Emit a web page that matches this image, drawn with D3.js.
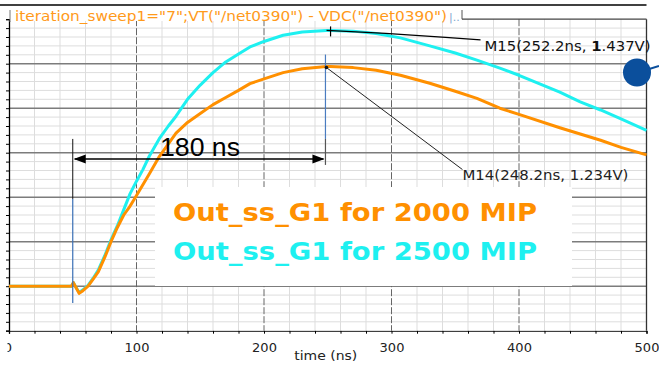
<!DOCTYPE html>
<html>
<head>
<meta charset="utf-8">
<script src="https://cdn.jsdelivr.net/npm/d3@7"></script>
<style>
  html, body { margin: 0; padding: 0; background: #fff; overflow: hidden; }
  svg { display: block; }
</style>
</head>
<body>
<svg id="chart" width="659" height="372"></svg>
<script>
// Transient response of Out_ss_G1 (VT - VDC of /net0390), two MIP settings
const timeNs = [0, 49, 50.5, 52, 55, 58, 62, 66, 70, 75, 80, 85, 90, 95, 100, 105, 110, 118, 125, 131,
  140, 150, 160, 170, 180, 189, 200, 215, 230, 249, 252, 270, 288, 307, 330, 350, 367, 385, 400,
  432, 448, 464, 480, 500];
const out2000MIP = [0, 0, 0.02, 0.0, -0.04, -0.025, 0.0, 0.04, 0.08, 0.16, 0.25, 0.33, 0.40, 0.45, 0.51,
  0.57, 0.63, 0.73, 0.80, 0.86, 0.92, 0.97, 1.02, 1.06, 1.10, 1.138, 1.165, 1.20, 1.222, 1.234, 1.234,
  1.228, 1.213, 1.185, 1.14, 1.095, 1.055, 1.00, 0.965, 0.89, 0.855, 0.82, 0.78, 0.738];
const out2500MIP = [0, 0, 0.02, 0.0, -0.035, -0.02, 0.005, 0.045, 0.09, 0.17, 0.26, 0.34, 0.43, 0.52, 0.59,
  0.655, 0.73, 0.83, 0.90, 0.955, 1.05, 1.13, 1.20, 1.26, 1.305, 1.344, 1.375, 1.41, 1.428, 1.437, 1.437,
  1.433, 1.42, 1.395, 1.35, 1.31, 1.27, 1.225, 1.185, 1.09, 1.035, 0.99, 0.94, 0.876];

const seriesNames = ["Out_ss_G1 for 2000 MIP", "Out_ss_G1 for 2500 MIP"];
const seriesColors = ["#ff9000", "#1ef0f0"];
const xTickLabels = [0, 100, 200, 300, 400, 500];
const titleText = 'iteration_sweep1="7";VT("/net0390") - VDC("/net0390")';

// markers placed on the peaks
const markerM14 = { name: "M14", t: 248.2, v: 1.234 };
const markerM15 = { name: "M15", t: 252.2, v: 1.437 };
// dimension arrow between the step edge and M14
const spanFrom = 50, spanTo = 248.2, spanLevel = 0.715, spanLabel = "180 ns";

const svg = d3.select("#chart");
const W = 659, H = 372;
const x = d3.scaleLinear().domain([0, 500]).range([9, 646.5]);
const y = d3.scaleLinear().domain([-0.25, 1.5]).range([330.7, 19.2]);
const [x0, x1] = x.range();
const [yB, yT] = y.range();

svg.append("rect").attr("width", W).attr("height", H).attr("fill", "#fff");

// ---- grid ----
const grid = svg.append("g");
const minorX = d3.range(20, 500, 20).filter(d => d % 100 !== 0);
const minorY = d3.range(-0.2, 1.5, 0.05).map(d => +d.toFixed(2)).filter(d => Math.abs(Math.round(d / 0.25) * 0.25 - d) > 1e-6);
grid.selectAll(".mx").data(minorX).join("line")
  .attr("x1", d => x(d)).attr("x2", d => x(d)).attr("y1", yT).attr("y2", yB)
  .attr("stroke", "#dddddd").attr("stroke-width", 1);
grid.selectAll(".my").data(minorY).join("line")
  .attr("x1", x0).attr("x2", x1).attr("y1", d => y(d)).attr("y2", d => y(d))
  .attr("stroke", "#dddddd").attr("stroke-width", 1);
const majorY = d3.range(0, 1.5, 0.25);
grid.selectAll(".My").data(majorY).join("line")
  .attr("x1", x0).attr("x2", x1).attr("y1", d => y(d)).attr("y2", d => y(d))
  .attr("stroke", "#7c7c7c").attr("stroke-width", 1.6);
grid.selectAll(".Mx").data([100, 200, 300, 400]).join("line")
  .attr("x1", d => x(d)).attr("x2", d => x(d)).attr("y1", yT).attr("y2", yB)
  .attr("stroke", "#666").attr("stroke-width", 1).attr("stroke-dasharray", "7,2");

// ---- legend panel ----
svg.append("rect").attr("x", 155).attr("y", 187).attr("width", 417).attr("height", 99).attr("fill", "#fff");
const legend = svg.append("g").attr("font-family", "DejaVu Sans, Verdana, sans-serif")
  .attr("font-weight", "bold").attr("font-size", 25);
legend.selectAll("text").data(seriesNames).join("text")
  .attr("x", 173).attr("y", (d, i) => 220.5 + i * 39.5)
  .attr("fill", (d, i) => seriesColors[i])
  .attr("textLength", 364).attr("lengthAdjust", "spacingAndGlyphs")
  .text(d => d);

// ---- axes ----
const xAxis = d3.axisBottom(x).tickValues(d3.range(0, 501, 20)).tickSize(3).tickPadding(9)
  .tickFormat(d => xTickLabels.includes(d) ? d : "");
svg.append("defs").append("clipPath").attr("id", "axclip")
  .append("rect").attr("x", 7.5).attr("y", 0).attr("width", W).attr("height", H);
const gx = svg.append("g").attr("transform", `translate(0,${yB})`).attr("clip-path", "url(#axclip)").call(xAxis);
gx.select(".domain").attr("stroke", "#000").attr("stroke-width", 1.3);
gx.selectAll(".tick line").attr("stroke", "#000");
gx.selectAll(".tick text").attr("font-family", "DejaVu Sans, Verdana, sans-serif")
  .attr("font-size", 13).attr("fill", "#222");
gx.selectAll(".tick text").filter(d => d === 0).attr("dx", -1.5);

const yAxis = d3.axisLeft(y).tickValues(d3.range(-0.25, 1.5001, 0.05)).tickSize(3).tickFormat("");
const gy = svg.append("g").attr("transform", `translate(${x0},0)`).call(yAxis);
gy.select(".domain").attr("stroke", "#000").attr("stroke-width", 1.3);
gy.selectAll(".tick line").attr("stroke", "#000");

// right and top frame
svg.append("line").attr("x1", x1).attr("x2", x1).attr("y1", yT).attr("y2", yB).attr("stroke", "#333").attr("stroke-width", 1.3);
svg.append("line").attr("x1", 0).attr("x2", x1).attr("y1", 5).attr("y2", 5).attr("stroke", "#000").attr("stroke-width", 1.5);

svg.append("text").attr("x", (x0 + x1) / 2 - 2).attr("y", 359.5).attr("text-anchor", "middle")
  .attr("font-family", "DejaVu Sans, Verdana, sans-serif").attr("font-size", 13).attr("fill", "#222")
  .attr("textLength", 63).attr("lengthAdjust", "spacingAndGlyphs").text("time (ns)");

// title tab
svg.append("rect").attr("x", 10).attr("y", 7).attr("width", 452).attr("height", 14).attr("fill", "#fff");
svg.append("line").attr("x1", 10).attr("x2", 10).attr("y1", 10).attr("y2", 22).attr("stroke", "#777");
svg.append("line").attr("x1", 462).attr("x2", 462).attr("y1", 10).attr("y2", yT).attr("stroke", "#555");
svg.append("line").attr("x1", 462).attr("x2", x1).attr("y1", yT).attr("y2", yT).attr("stroke", "#444").attr("stroke-width", 1.2);
svg.append("text").attr("x", 15).attr("y", 20.5)
  .attr("font-family", "DejaVu Sans, Verdana, sans-serif").attr("font-size", 14.5).attr("fill", "#ff9a1a")
  .attr("textLength", 432).attr("lengthAdjust", "spacingAndGlyphs").text(titleText);
svg.append("text").attr("x", 449).attr("y", 20.5)
  .attr("font-family", "DejaVu Sans, sans-serif").attr("font-size", 11).attr("fill", "#7fa7d0").text("|..");

// ---- waveforms ----
const line = d3.line().x(d => x(d[0])).y(d => y(d[1])).curve(d3.curveLinear);
const series = [out2500MIP, out2000MIP];
const colorsDraw = [seriesColors[1], seriesColors[0]];
svg.selectAll(".wave").data(series).join("path")
  .attr("d", s => line(timeNs.map((t, i) => [t, s[i]])))
  .attr("fill", "none").attr("stroke", (d, i) => colorsDraw[i])
  .attr("stroke-width", 3).attr("stroke-linejoin", "round");

// ---- markers ----
const ann = svg.append("g");
// step-edge marker line
ann.append("line").attr("x1", x(spanFrom)).attr("x2", x(spanFrom)).attr("y1", y(spanLevel) - 20).attr("y2", y(0.49))
  .attr("stroke", "#111").attr("stroke-width", 1);
ann.append("line").attr("x1", x(spanFrom)).attr("x2", x(spanFrom)).attr("y1", y(0.49)).attr("y2", y(-0.095))
  .attr("stroke", "#3a6fb5").attr("stroke-width", 1.2);
// M14 marker line
ann.append("line").attr("x1", x(markerM14.t)).attr("x2", x(markerM14.t)).attr("y1", y(markerM14.v) - 12).attr("y2", y(spanLevel) - 20)
  .attr("stroke", "#4a7cc0").attr("stroke-width", 1.2);
ann.append("line").attr("x1", x(markerM14.t)).attr("x2", x(markerM14.t)).attr("y1", y(spanLevel) - 20).attr("y2", y(spanLevel) + 6)
  .attr("stroke", "#555").attr("stroke-width", 1.2);

// dimension arrow
const ay = y(spanLevel);
ann.append("line").attr("x1", x(spanFrom) + 2).attr("x2", x(spanTo) - 2).attr("y1", ay).attr("y2", ay)
  .attr("stroke", "#000").attr("stroke-width", 1.4);
const head = (tip, dir) => `M${tip},${ay} L${tip + dir * 12},${ay - 4.5} L${tip + dir * 12},${ay + 4.5} Z`;
ann.append("path").attr("d", head(x(spanFrom) + 1, 1)).attr("fill", "#000");
ann.append("path").attr("d", head(x(spanTo) - 1, -1)).attr("fill", "#000");
ann.append("text").attr("x", 160).attr("y", ay - 2.5)
  .attr("font-family", "Liberation Sans, Arial, sans-serif").attr("font-size", 25).attr("fill", "#000")
  .attr("textLength", 80).attr("lengthAdjust", "spacingAndGlyphs").text(spanLabel);

// M15 on the 2500 MIP peak
const m15x = x(markerM15.t), m15y = y(markerM15.v);
ann.append("line").attr("x1", m15x).attr("x2", m15x).attr("y1", m15y - 4).attr("y2", m15y + 6).attr("stroke", "#000").attr("stroke-width", 1.2);
ann.append("path").attr("d", `M${m15x - 4},${m15y} L${m15x + 55},${m15y + 3} L${m15x + 115},${m15y + 7} L${m15x + 150},${m15y + 9.5}`)
  .attr("fill", "none").attr("stroke", "#000").attr("stroke-width", 1.4);
const t15 = ann.append("text").attr("x", m15x + 154).attr("y", m15y + 20.5)
  .attr("font-family", "DejaVu Sans, Verdana, sans-serif").attr("font-size", 14.5).attr("fill", "#111")
  .attr("textLength", 166).attr("lengthAdjust", "spacingAndGlyphs");
t15.append("tspan").text(`${markerM15.name}(${markerM15.t}ns, `);
t15.append("tspan").attr("font-weight", "bold").text("1");
t15.append("tspan").text(`.${markerM15.v.toFixed(3).split(".")[1]}V)`);

// M14 on the 2000 MIP peak
const m14x = x(markerM14.t), m14y = y(markerM14.v);
ann.append("circle").attr("cx", m14x + 1).attr("cy", m14y + 1).attr("r", 1.8).attr("fill", "#111");
ann.append("line").attr("x1", m14x + 1).attr("y1", m14y + 1).attr("x2", m14x + 137).attr("y2", m14y + 103)
  .attr("stroke", "#222").attr("stroke-width", 1);
ann.append("text").attr("x", m14x + 137).attr("y", m14y + 113)
  .attr("font-family", "DejaVu Sans, Verdana, sans-serif").attr("font-size", 14).attr("fill", "#222")
  .attr("textLength", 166).attr("lengthAdjust", "spacingAndGlyphs")
  .text(`${markerM14.name}(${markerM14.t}ns, ${markerM14.v}V)`);

// handle on the right edge
svg.append("line").attr("x1", 646).attr("y1", 70).attr("x2", 659).attr("y2", 66).attr("stroke", "#0b4f9c").attr("stroke-width", 2);
svg.append("circle").attr("cx", 637).attr("cy", 72.5).attr("r", 14).attr("fill", "#0b4f9c");
</script>
</body>
</html>
